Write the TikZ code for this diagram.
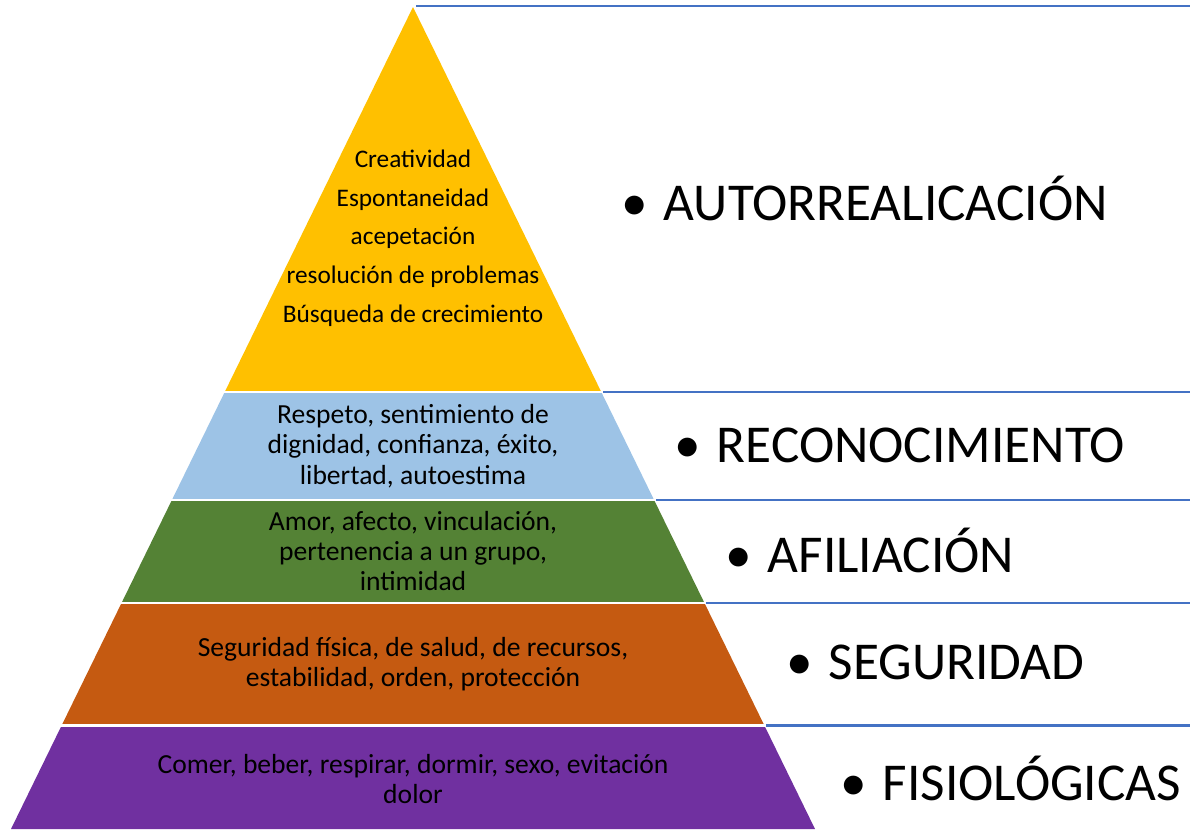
\documentclass[tikz,border=0pt]{standalone}
\usepackage{fontspec}
\setmainfont{Carlito}
\usetikzlibrary{calc,positioning}
\definecolor{Gold}{HTML}{FFC000}
\definecolor{SkyF}{HTML}{9DC3E6}
\definecolor{Leaf}{HTML}{548235}
\definecolor{Rust}{HTML}{C55A11}
\definecolor{Plum}{HTML}{7030A0}
\definecolor{Rule}{HTML}{4472C4}

\begin{document}
\begin{tikzpicture}[
  x=0.02cm, y=-0.02cm,
  need/.style={align=center, text=black, font=\fontsize{15.7}{17.3}\selectfont},
  tier/.style={anchor=west, text=black, inner sep=0pt, font=\fontsize{30.3}{34}\selectfont},
  rule/.style={draw=Rule, line width=1.6pt},
  gap/.style={draw=white, line width=1.6pt}
]
  \useasboundingbox (0,0) rectangle (1190,829);

  % pyramid corners
  \coordinate (apex) at (413,7);
  \coordinate (bl) at (11,829);
  \coordinate (br) at (815,829);

  % level boundaries
  \coordinate (l1) at ($(apex)!0.4684!(bl)$);  \coordinate (r1) at ($(apex)!0.4684!(br)$);
  \coordinate (l2) at ($(apex)!0.5998!(bl)$);  \coordinate (r2) at ($(apex)!0.5998!(br)$);
  \coordinate (l3) at ($(apex)!0.7251!(bl)$);  \coordinate (r3) at ($(apex)!0.7251!(br)$);
  \coordinate (l4) at ($(apex)!0.8741!(bl)$);  \coordinate (r4) at ($(apex)!0.8741!(br)$);

  \fill[Gold] (apex) -- (r1) -- (l1) -- cycle;
  \fill[SkyF] (l1) -- (r1) -- (r2) -- (l2) -- cycle;
  \fill[Leaf] (l2) -- (r2) -- (r3) -- (l3) -- cycle;
  \fill[Rust] (l3) -- (r3) -- (r4) -- (l4) -- cycle;
  \fill[Plum] (l4) -- (r4) -- (br) -- (bl) -- cycle;

  \foreach \k in {1,...,4}
    \draw[gap] ($(l\k)+(-3,0)$) -- ($(r\k)+(3,0)$);

  % rules to the right
  \draw[rule] (416,6) -- (1190,6);
  \foreach \k in {1,...,4}
    \draw[rule] ($(r\k)+(2,0)$) -- (1190,0 |- r\k);

  % contents of each level
  \node[need, font=\fontsize{14.4}{22}\selectfont] (self) at (413,238)
    {Creatividad\\Espontaneidad\\acepetación\\resolución de problemas\\Búsqueda de crecimiento};
  \node[need] (esteem) at (413,446)
    {Respeto, sentimiento de\\dignidad, confianza, éxito,\\libertad, autoestima};
  \node[need] (love) at (413,551)
    {Amor, afecto, vinculación,\\pertenencia a un grupo,\\intimidad};
  \node[need] (safe) at (413,664)
    {Seguridad física, de salud, de recursos,\\estabilidad, orden, protección};
  \node[need] (body) at (413,779)
    {Comer, beber, respirar, dormir, sexo, evitación\\dolor};

  % level names
  \node[tier] (tself) at (621,198) {\textbullet\hspace{0.3em}AUTORREALICACIÓN};
  \node[tier] (testeem) at (674,445) {\textbullet\hspace{0.3em}RECONOCIMIENTO};
  \node[tier] (tlove) at (725,550) {\textbullet\hspace{0.3em}AFILIACIÓN};
  \node[tier] (tsafe) at (786,662) {\textbullet\hspace{0.3em}SEGURIDAD};
  \node[tier] (tbody) at (840,778) {\textbullet\hspace{0.3em}FISIOLÓGICAS};
\end{tikzpicture}
\end{document}
